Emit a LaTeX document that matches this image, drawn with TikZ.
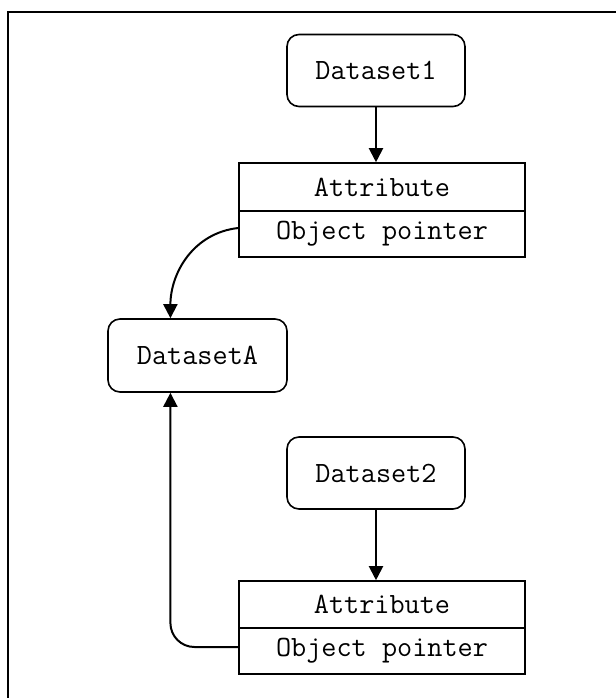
\documentclass[tikz,border=0pt]{standalone}
\usepackage{fontspec}
\usetikzlibrary{arrows.meta,calc}
\tikzset{
  dsbox/.style={draw, line width=0.8pt, rounded corners=6pt, minimum width=89pt, minimum height=36pt, inner sep=0pt, font=\ttfamily\fontsize{14.7}{17}\selectfont},
  cellbox/.style={draw, line width=0.8pt, minimum width=143pt, inner sep=0pt, font=\ttfamily\fontsize{14.7}{17}\selectfont},
  conn/.style={line width=1pt, -{Triangle[length=7pt,width=7pt]}},
  frameline/.style={line width=1.3pt}
}
\begin{document}
\begin{tikzpicture}[x=0.5pt,y=-0.5pt]
\useasboundingbox (0,0) rectangle (616,698);
\coordinate (ftr) at (616,12);
\coordinate (ftl) at (8,12);
\coordinate (fbl) at (8,698);
\draw[frameline] (ftr) -- (ftl) -- (fbl);
\node[dsbox] (d1) at (376,70.5) {Dataset1};
\node[cellbox, minimum height=24pt] (attr1) at (382,187) {Attribute};
\node[cellbox, minimum height=23pt] (ptr1) at (382,234) {Object pointer};
\node[dsbox, minimum width=89.5pt, minimum height=36.5pt] (dA) at (197.5,355.5) {DatasetA};
\node[dsbox] (d2) at (376,473) {Dataset2};
\node[cellbox, minimum height=23.5pt] (attr2) at (382,604.5) {Attribute};
\node[cellbox, minimum height=23pt] (ptr2) at (382,651) {Object pointer};
\coordinate (cA) at ($(dA.south west)!0.35!(dA.south east)$);
\coordinate (cAt) at ($(dA.north west)!0.35!(dA.north east)$);
\draw[conn] (d1.south) -- (d1.south |- attr1.north);
\draw[conn] (d2.south) -- (d2.south |- attr2.north);
\draw[conn] ([yshift=3pt]ptr1.west) .. controls +(-45,5) and +(0,-45) .. (cAt);
\draw[conn, rounded corners=12pt] ([yshift=2pt]ptr2.west) -| (cA);
\end{tikzpicture}
\end{document}
